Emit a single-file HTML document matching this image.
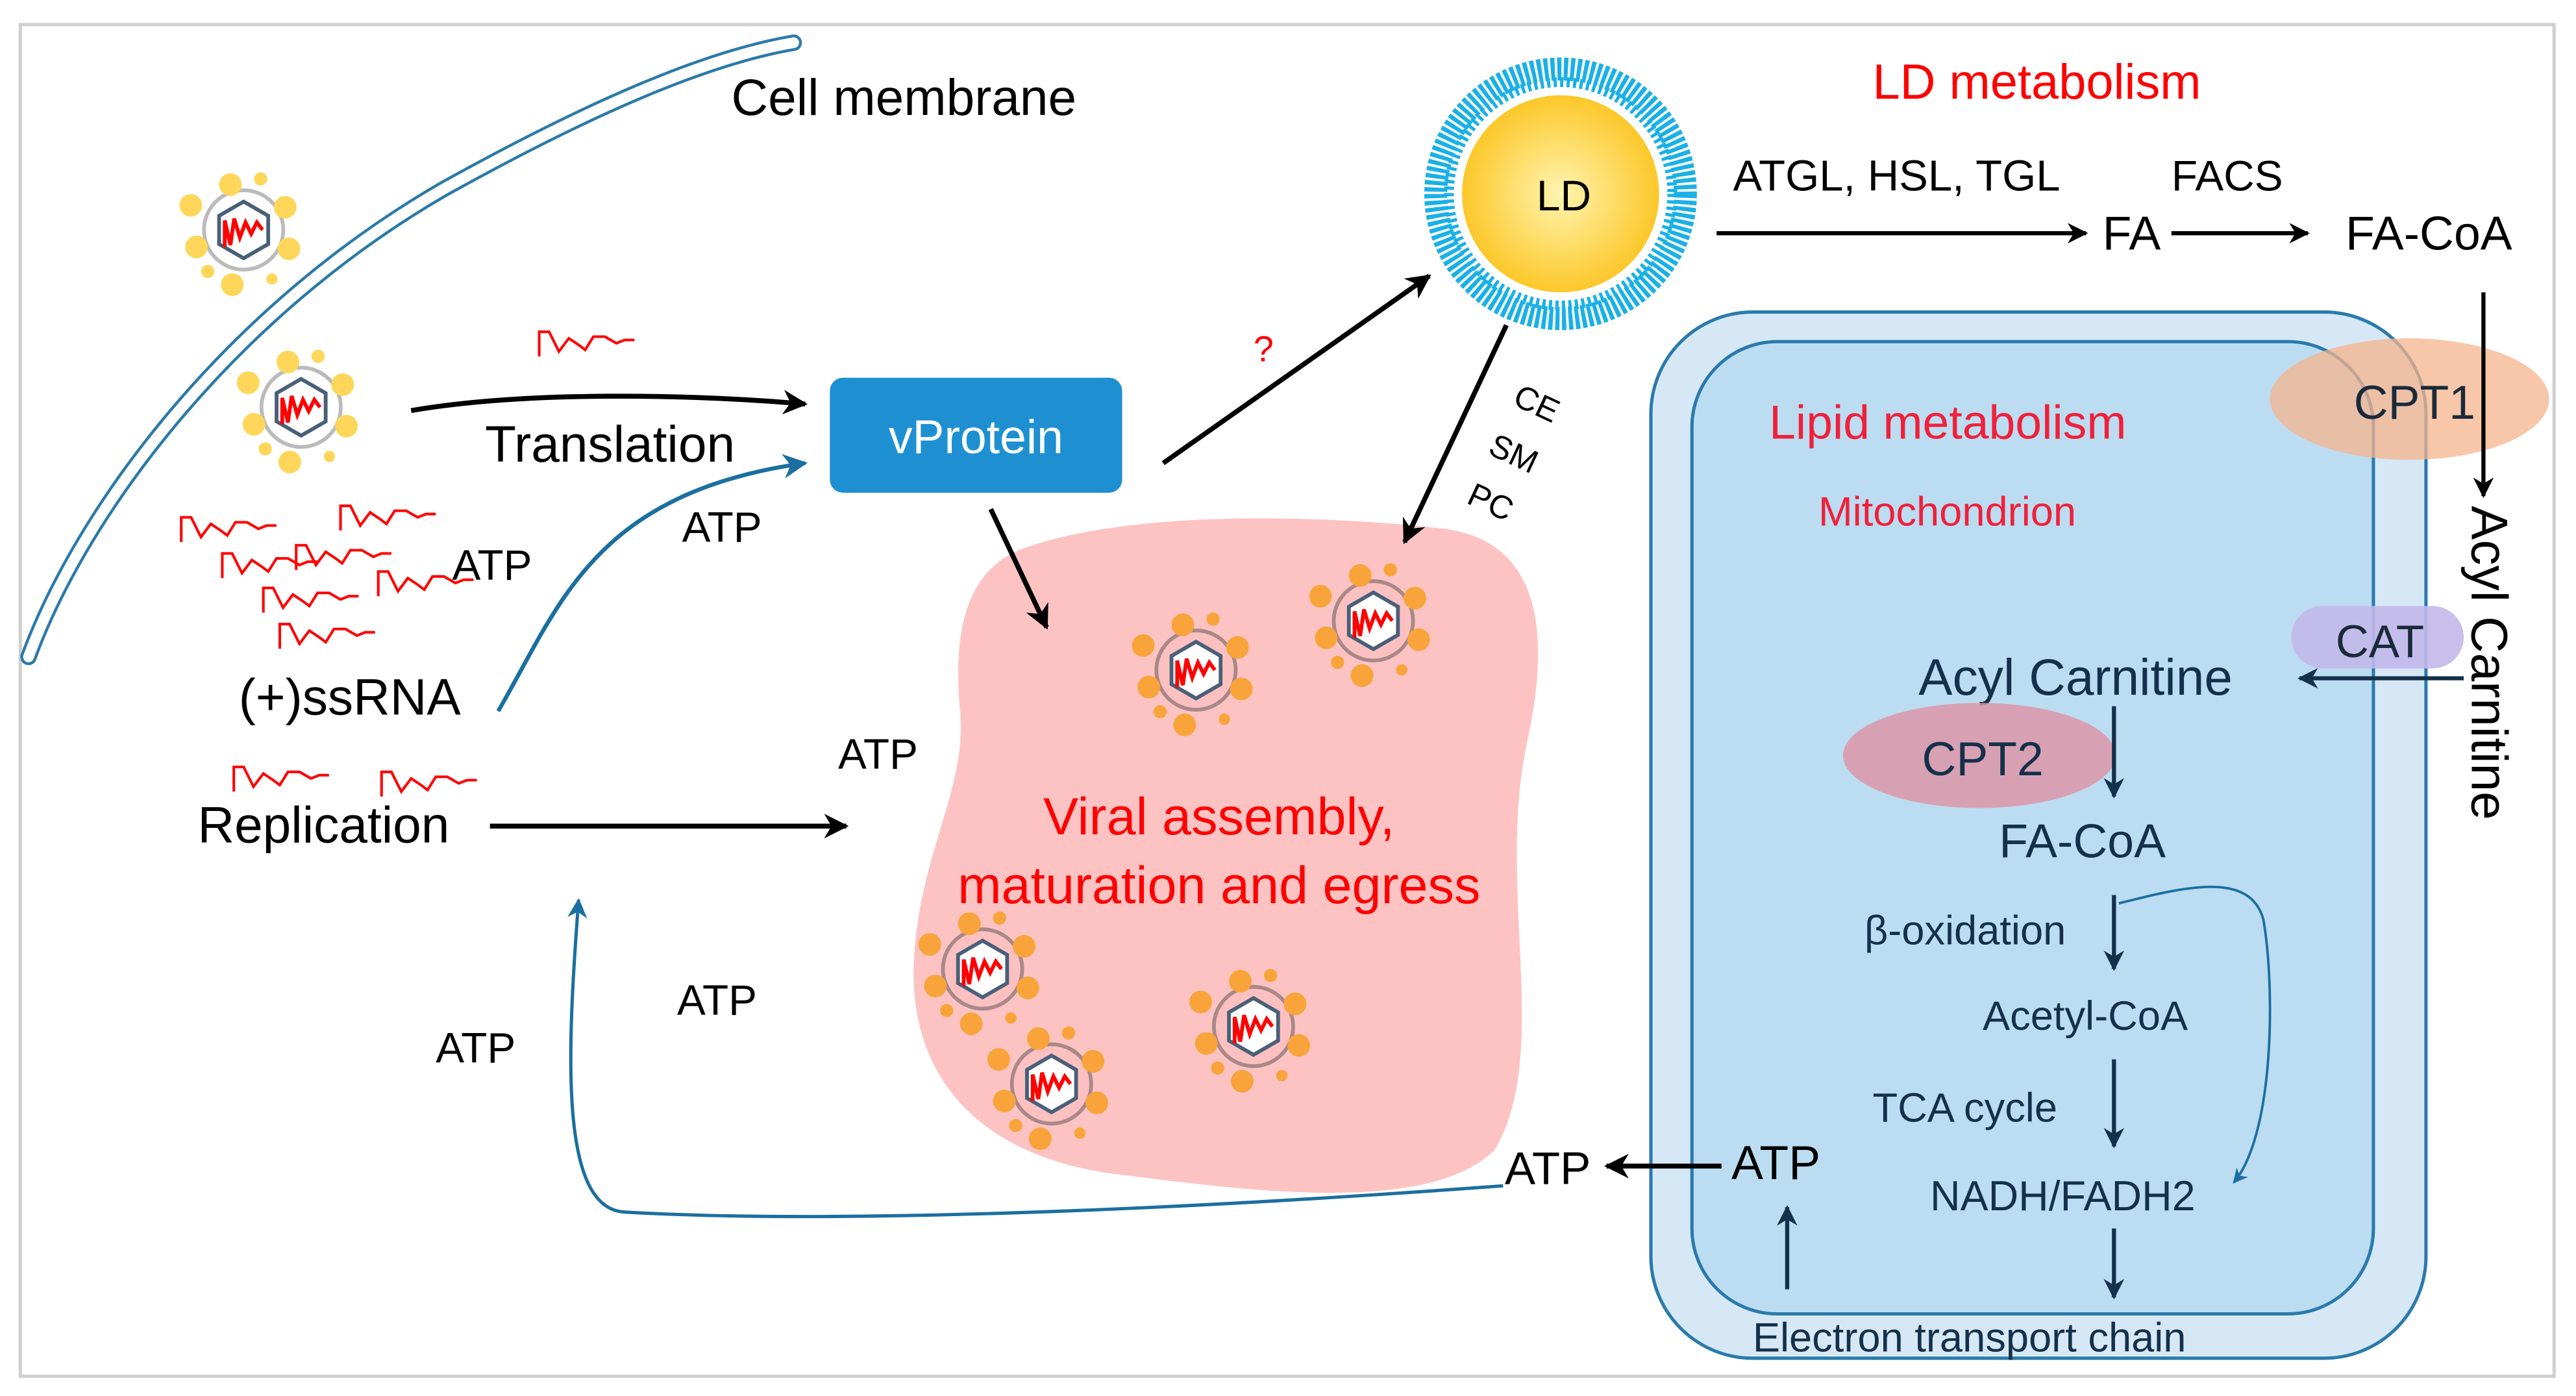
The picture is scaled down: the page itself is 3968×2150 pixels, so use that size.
<!DOCTYPE html>
<html><head><meta charset="utf-8"><style>html,body{margin:0;padding:0;background:#fff}svg{display:block}text{font-family:"Liberation Sans",sans-serif}</style></head>
<body>
<svg width="3968" height="2150" viewBox="0 0 1568 850" xmlns="http://www.w3.org/2000/svg">
<defs>
<marker id="ah" viewBox="0 0 10 10" refX="9" refY="5" markerWidth="5" markerHeight="5" orient="auto"><path d="M0,0 L10,5 L0,10 L3,5 z" fill="#000"/></marker>
<marker id="ahn" viewBox="0 0 10 10" refX="9" refY="5" markerWidth="5" markerHeight="5" orient="auto"><path d="M0,0 L10,5 L0,10 L3,5 z" fill="#14304a"/></marker>
<marker id="ahb" viewBox="0 0 10 10" refX="9" refY="5" markerWidth="6" markerHeight="6" orient="auto"><path d="M0,0 L10,5 L0,10 L3,5 z" fill="#1b6fa0"/></marker>
<radialGradient id="ldg"><stop offset="0" stop-color="#fff4b0"/><stop offset="1" stop-color="#fcc82a"/></radialGradient>
<g id="vir" transform="scale(1.15)">
<circle cx="0" cy="0" r="21" fill="#fff" stroke="#bbb" stroke-width="2"/>
<polygon points="0,-15 13,-7.5 13,7.5 0,15 -13,7.5 -13,-7.5" fill="#fff" stroke="#4a5f78" stroke-width="2"/>
<path d="M-10,9 L-10,-5 L-7,8 L-5,-6 L-2,4 L1,-4 L4,2 L7,-4 L10,0" fill="none" stroke="#f00" stroke-width="2"/>
<circle cx="-7" cy="-24" r="6" fill="#fed75a"/><circle cx="9" cy="-27" r="3.5" fill="#fed75a"/>
<circle cx="22" cy="-12" r="6" fill="#fed75a"/><circle cx="-28" cy="-13" r="6" fill="#fed75a"/>
<circle cx="-25" cy="9" r="6" fill="#fed75a"/><circle cx="24" cy="10" r="6" fill="#fed75a"/>
<circle cx="-19" cy="22" r="3.5" fill="#fed75a"/><circle cx="-6" cy="29" r="6" fill="#fed75a"/><circle cx="15" cy="26" r="3" fill="#fed75a"/>
</g>
<g id="vir2" transform="scale(1.15)">
<circle cx="0" cy="0" r="21" fill="#fcc0c0" stroke="#aa8888" stroke-width="2"/>
<polygon points="0,-15 13,-7.5 13,7.5 0,15 -13,7.5 -13,-7.5" fill="#fff" stroke="#4a5f78" stroke-width="2"/>
<path d="M-10,9 L-10,-5 L-7,8 L-5,-6 L-2,4 L1,-4 L4,2 L7,-4 L10,0" fill="none" stroke="#f00" stroke-width="2"/>
<circle cx="-7" cy="-24" r="6" fill="#f9a43a"/><circle cx="9" cy="-27" r="3.5" fill="#f9a43a"/>
<circle cx="22" cy="-12" r="6" fill="#f9a43a"/><circle cx="-28" cy="-13" r="6" fill="#f9a43a"/>
<circle cx="-25" cy="9" r="6" fill="#f9a43a"/><circle cx="24" cy="10" r="6" fill="#f9a43a"/>
<circle cx="-19" cy="22" r="3.5" fill="#f9a43a"/><circle cx="-6" cy="29" r="6" fill="#f9a43a"/><circle cx="15" cy="26" r="3" fill="#f9a43a"/>
</g>
<path id="rna" d="M0,17 L0,2 L6,2 L12,14 L18,6 L24,10 L28,13 L33,5 L40,5 L47,9 L52,7 L58,7" fill="none" stroke="#f00" stroke-width="1.6"/>
</defs>
<rect x="12" y="15" width="1543" height="823" fill="#fff" stroke="#cfcfcf" stroke-width="2"/>
<!-- membrane -->
<path d="M17,400 C50,310 140,190 270,115 C360,65 430,35 483,26" fill="none" stroke="#2a7aa8" stroke-width="10" stroke-linecap="round"/>
<path d="M17,400 C50,310 140,190 270,115 C360,65 430,35 483,26" fill="none" stroke="#fff" stroke-width="6.5" stroke-linecap="round"/>
<text x="445" y="70" font-size="31">Cell membrane</text>
<use href="#vir" x="148" y="140"/><use href="#vir" x="183" y="248"/>
<use href="#rna" x="328" y="200"/>
<use href="#rna" x="110" y="313"/><use href="#rna" x="207" y="306"/><use href="#rna" x="135" y="335"/><use href="#rna" x="180" y="330"/>
<use href="#rna" x="230" y="346"/><use href="#rna" x="160" y="356"/><use href="#rna" x="170" y="378"/>
<use href="#rna" x="142" y="465"/><use href="#rna" x="232" y="468"/>
<!-- blob -->
<path d="M620,335 C680,312 790,312 880,322 C935,330 945,380 930,450 C910,540 945,640 910,700 C870,740 760,725 680,715 C600,705 555,660 556,590 C558,520 590,480 584,430 C580,380 590,348 620,335 Z" fill="#fdc3c3"/>
<path d="M250,250 C320,238 420,240 490,246" fill="none" stroke="#000" stroke-width="3" marker-end="url(#ah)"/>
<text x="295" y="281" font-size="31">Translation</text>
<rect x="505" y="230" width="178" height="70" rx="8" fill="#1e90d2"/>
<text x="594" y="276" font-size="29" fill="#fff" text-anchor="middle">vProtein</text>
<path d="M303,433 C340,370 360,300 490,282" fill="none" stroke="#1b6fa0" stroke-width="2.5" marker-end="url(#ahb)"/>
<text x="415" y="330" font-size="26">ATP</text>
<text x="275" y="353" font-size="26">ATP</text>
<text x="145" y="435" font-size="31">(+)ssRNA</text>
<text x="120" y="513" font-size="31">Replication</text>
<line x1="298" y1="503" x2="515" y2="503" stroke="#000" stroke-width="3" marker-end="url(#ah)"/>
<text x="510" y="468" font-size="26">ATP</text>
<line x1="603" y1="310" x2="637" y2="382" stroke="#000" stroke-width="3" marker-end="url(#ah)"/>
<line x1="708" y1="282" x2="870" y2="168" stroke="#000" stroke-width="3" marker-end="url(#ah)"/>
<text x="763" y="220" font-size="22" fill="#f00">?</text>
<!-- LD -->
<circle cx="950" cy="118" r="76" fill="#fff" stroke="#1bb0e6" stroke-width="14" stroke-dasharray="2.5 1.5"/>
<circle cx="950" cy="118" r="68" fill="none" stroke="#1bb0e6" stroke-width="6" stroke-dasharray="2 2"/>
<circle cx="950" cy="118" r="60" fill="url(#ldg)"/>
<text x="952" y="128" font-size="26" text-anchor="middle">LD</text>
<line x1="917" y1="198" x2="855" y2="330" stroke="#000" stroke-width="3" marker-end="url(#ah)"/>
<text x="920" y="246" font-size="20" transform="rotate(25 920 246)">CE</text>
<text x="905" y="276" font-size="20" transform="rotate(25 905 276)">SM</text>
<text x="892" y="306" font-size="20" transform="rotate(25 892 306)">PC</text>
<use href="#vir2" x="728" y="408"/><use href="#vir2" x="836" y="378"/><use href="#vir2" x="598" y="590"/><use href="#vir2" x="640" y="660"/><use href="#vir2" x="763" y="625"/>
<text x="742" y="508" font-size="32" fill="#f00" text-anchor="middle">Viral assembly,</text>
<text x="742" y="550" font-size="32" fill="#f00" text-anchor="middle">maturation and egress</text>
<text x="412" y="618" font-size="26">ATP</text>
<text x="265" y="647" font-size="26">ATP</text>
<path d="M915,722 C700,738 500,745 380,738 C340,736 345,640 352,548" fill="none" stroke="#1b6fa0" stroke-width="2" marker-end="url(#ahb)"/>
<!-- mito -->
<rect x="1005" y="190" width="472" height="637" rx="62" fill="#d6e8f6" stroke="#2a7aac" stroke-width="2"/>
<rect x="1030" y="208" width="415" height="592" rx="52" fill="#bcdcf1" stroke="#2a7aac" stroke-width="2"/>
<text x="916" y="721" font-size="28">ATP</text>
<line x1="1048" y1="710" x2="978" y2="710" stroke="#000" stroke-width="3" marker-end="url(#ah)"/>
<text x="1054" y="718" font-size="29" fill="#000">ATP</text>
<text x="1140" y="60" font-size="30" fill="#f00">LD metabolism</text>
<text x="1055" y="116" font-size="26.5">ATGL, HSL, TGL</text>
<line x1="1045" y1="142" x2="1270" y2="142" stroke="#000" stroke-width="2.5" marker-end="url(#ah)"/>
<text x="1280" y="152" font-size="29">FA</text>
<text x="1322" y="116" font-size="26">FACS</text>
<line x1="1322" y1="142" x2="1405" y2="142" stroke="#000" stroke-width="2.5" marker-end="url(#ah)"/>
<text x="1428" y="152" font-size="29">FA-CoA</text>
<ellipse cx="1467" cy="243" rx="85" ry="37" fill="#f5b48c" opacity="0.75"/>
<line x1="1512" y1="178" x2="1512" y2="302" stroke="#000" stroke-width="2.5" marker-end="url(#ah)"/>
<text x="1433" y="255" font-size="29" fill="#1a2a3a">CPT1</text>
<text x="1505" y="308" font-size="31" transform="rotate(90 1505 308)">Acyl Carnitine</text>
<rect x="1395" y="369" width="105" height="38" rx="19" fill="#c2b8ea" opacity="0.9"/>
<text x="1422" y="400" font-size="28" fill="#1a2a3a">CAT</text>
<line x1="1500" y1="413" x2="1400" y2="413" stroke="#14304a" stroke-width="2.5" marker-end="url(#ahn)"/>
<text x="1077" y="267" font-size="29" fill="#f0203a">Lipid metabolism</text>
<text x="1107" y="320" font-size="25" fill="#f0203a">Mitochondrion</text>
<g fill="#14304a">
<text x="1168" y="423" font-size="31">Acyl Carnitine</text>
<ellipse cx="1205" cy="460" rx="83" ry="32" fill="#dc96a8" opacity="0.85"/>
<text x="1170" y="472" font-size="29">CPT2</text>
<text x="1217" y="522" font-size="29">FA-CoA</text>
<text x="1135" y="575" font-size="25">β-oxidation</text>
<text x="1207" y="627" font-size="25">Acetyl-CoA</text>
<text x="1140" y="683" font-size="25">TCA cycle</text>
<text x="1175" y="737" font-size="25.5">NADH/FADH2</text>
<text x="1067" y="823" font-size="25">Electron transport chain</text>
</g>
<g stroke="#14304a" stroke-width="2.5">
<line x1="1287" y1="430" x2="1287" y2="485" marker-end="url(#ahn)"/>
<line x1="1287" y1="545" x2="1287" y2="590" marker-end="url(#ahn)"/>
<line x1="1287" y1="645" x2="1287" y2="698" marker-end="url(#ahn)"/>
<line x1="1287" y1="748" x2="1287" y2="790" marker-end="url(#ahn)"/>
<line x1="1088" y1="785" x2="1088" y2="735" marker-end="url(#ahn)"/>
</g>
<path d="M1290,550 C1330,540 1370,530 1378,560 C1385,600 1385,690 1360,720" fill="none" stroke="#1b6fa0" stroke-width="1.5" marker-end="url(#ahb)"/>
</svg>
</body></html>
